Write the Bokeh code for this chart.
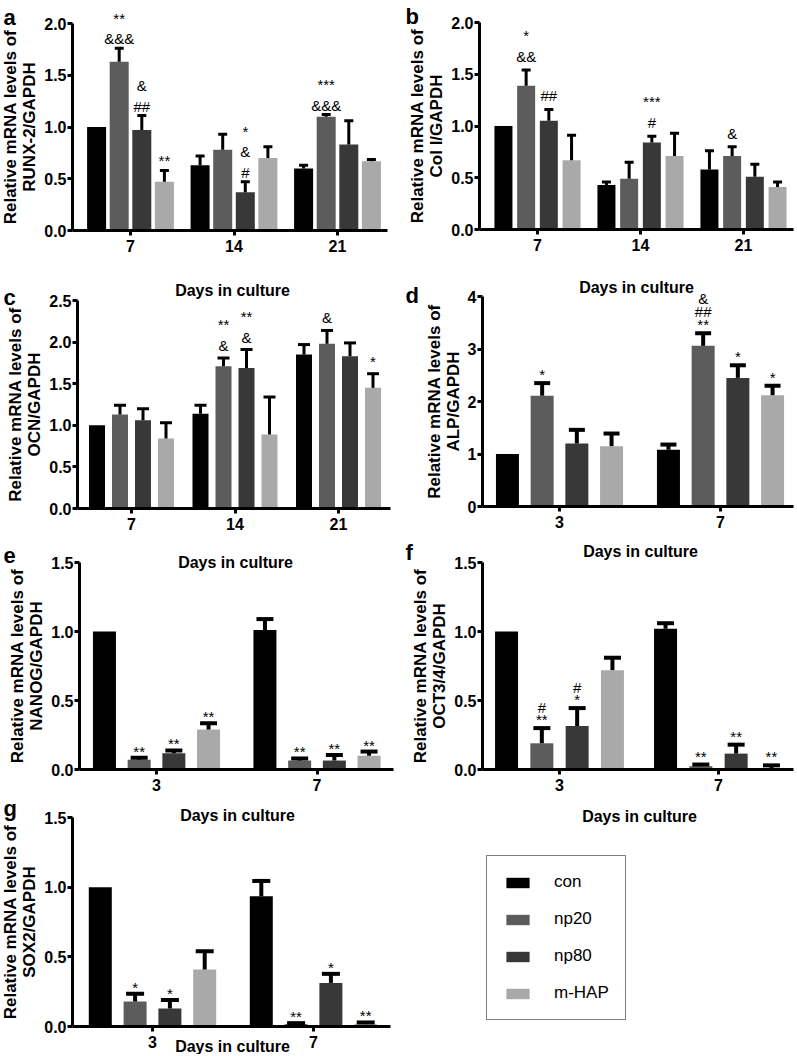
from bokeh.plotting import figure
from bokeh.models import (ColumnDataSource, Whisker, TeeHead, Label, LabelSet, Legend,
                          LegendItem, FixedTicker, NumeralTickFormatter, Range1d, LinearAxis)
from bokeh.embed import file_html
from bokeh.resources import INLINE
from bokeh.core.properties import value

FONT = "Liberation Sans"
series = ["con", "np20", "np80", "m-HAP"]
colors = ["#000000", "#5c5c5c", "#383838", "#a9a9a9"]

# ---------------- data ----------------
# (a) RUNX-2
a_days = ["7", "14", "21"]
a_con = [1.00, 0.63, 0.60]
a_con_err = [0.00, 0.09, 0.03]
a_np20 = [1.63, 0.78, 1.10]
a_np20_err = [0.13, 0.15, 0.02]
a_np80 = [0.97, 0.37, 0.83]
a_np80_err = [0.14, 0.10, 0.23]
a_mhap = [0.47, 0.70, 0.67]
a_mhap_err = [0.11, 0.11, 0.015]
a_marks = [(1, 0, ["&&&", "**"]), (2, 0, ["##", "&"]), (3, 0, ["**"]),
           (2, 1, ["#", "&", "*"]), (1, 2, ["&&&", "***"])]

# (b) Col I
b_days = ["7", "14", "21"]
b_con = [1.00, 0.43, 0.58]
b_con_err = [0.00, 0.03, 0.18]
b_np20 = [1.39, 0.49, 0.71]
b_np20_err = [0.15, 0.16, 0.09]
b_np80 = [1.05, 0.84, 0.51]
b_np80_err = [0.11, 0.06, 0.12]
b_mhap = [0.67, 0.71, 0.41]
b_mhap_err = [0.24, 0.22, 0.05]
b_marks = [(1, 0, ["&&", "*"]), (2, 0, ["##"]), (2, 1, ["#", "***"]), (1, 2, ["&"])]

# (c) OCN
c_days = ["7", "14", "21"]
c_con = [1.00, 1.14, 1.85]
c_con_err = [0.00, 0.10, 0.12]
c_np20 = [1.13, 1.71, 1.98]
c_np20_err = [0.11, 0.10, 0.16]
c_np80 = [1.06, 1.69, 1.83]
c_np80_err = [0.14, 0.22, 0.16]
c_mhap = [0.84, 0.89, 1.45]
c_mhap_err = [0.19, 0.45, 0.17]
c_marks = [(1, 1, ["&", "**"]), (2, 1, ["&", "**"]), (1, 2, ["&"]), (3, 2, ["*"])]

# (d) ALP
d_days = ["3", "7"]
d_con = [1.00, 1.08]
d_con_err = [0.00, 0.10]
d_np20 = [2.11, 3.06]
d_np20_err = [0.24, 0.24]
d_np80 = [1.20, 2.45]
d_np80_err = [0.26, 0.24]
d_mhap = [1.15, 2.12]
d_mhap_err = [0.24, 0.18]
d_marks = [(1, 0, ["*"]), (1, 1, ["**", "##", "&"]), (2, 1, ["*"]), (3, 1, ["*"])]

# (e) NANOG
e_days = ["3", "7"]
e_con = [1.00, 1.01]
e_con_err = [0.00, 0.08]
e_np20 = [0.07, 0.065]
e_np20_err = [0.015, 0.015]
e_np80 = [0.118, 0.065]
e_np80_err = [0.02, 0.04]
e_mhap = [0.29, 0.10]
e_mhap_err = [0.045, 0.03]
e_marks = [(1, 0, ["**"]), (2, 0, ["**"]), (3, 0, ["**"]),
           (1, 1, ["**"]), (2, 1, ["**"]), (3, 1, ["**"])]

# (f) OCT3/4
f_days = ["3", "7"]
f_con = [1.00, 1.02]
f_con_err = [0.00, 0.04]
f_np20 = [0.19, 0.024]
f_np20_err = [0.11, 0.012]
f_np80 = [0.315, 0.115]
f_np80_err = [0.13, 0.065]
f_mhap = [0.72, 0.008]
f_mhap_err = [0.09, 0.022]
f_marks = [(1, 0, ["**", "#"]), (2, 0, ["*", "#"]),
           (1, 1, ["**"]), (2, 1, ["**"]), (3, 1, ["**"])]

# (g) SOX2
g_days = ["3", "7"]
g_con = [1.00, 0.935]
g_con_err = [0.00, 0.11]
g_np20 = [0.18, 0.017]
g_np20_err = [0.055, 0.007]
g_np80 = [0.13, 0.313]
g_np80_err = [0.06, 0.065]
g_mhap = [0.41, 0.017]
g_mhap_err = [0.13, 0.012]
g_marks = [(1, 0, ["*"]), (2, 0, ["*"]), (1, 1, ["**"]), (2, 1, ["*"]), (3, 1, ["**"])]

PREFIX = "Relative mRNA levels of\n"

# ---------------- canvas ----------------
CW, CH = 795, 1054          # canvas size (page starts at 0,0)
PL, PT = 0, 0
PR, PB = PL + CW, PT + CH

p = figure(width=CW, height=CH, x_range=Range1d(0, 1), y_range=Range1d(0, 1),
           output_backend="svg", toolbar_location=None,
           x_axis_location=None, y_axis_location=None, min_border=0)
p.min_border_left = p.min_border_right = p.min_border_top = p.min_border_bottom = 0
p.outline_line_color = None
p.grid.visible = False
p.background_fill_color = "white"
p.border_fill_color = "white"


def add_text(px, py, text, size="16px", bold=True, align="center", baseline="middle"):
    p.add_layout(Label(x=px - PL, y=PB - py, x_units="screen", y_units="screen", text=text,
                       text_font=FONT, text_font_size=size,
                       text_font_style="bold" if bold else "normal",
                       text_color="black", text_align=align, text_baseline=baseline))


def panel(name, geo, ymax, ystep, fmt, days, means, errs, ylabel, marks):
    ox, oy, K, G0, S, xr, bwp, pitp, gap, lstep, tee, lw = geo
    p.extra_x_ranges[name] = Range1d((PL - G0) / S, (PR - G0) / S)
    p.extra_y_ranges[name] = Range1d((oy - PB) / K, (oy - PT) / K)
    kw = dict(x_range_name=name, y_range_name=name)
    n = len(days)
    bw = bwp / S
    pitch = pitp / S
    rends = []
    wb, wl, wu = [], [], []
    for i in range(4):
        xs = [g + (i - 1.5) * pitch for g in range(n)]
        src = ColumnDataSource(dict(x=xs, top=means[i]))
        rends.append(p.vbar(x="x", top="top", width=bw, bottom=0, source=src,
                            fill_color=colors[i], line_color=None, **kw))
        for g in range(n):
            if errs[i][g] > 0:
                wb.append(xs[g])
                wl.append(means[i][g])
                wu.append(means[i][g] + errs[i][g])
    p.add_layout(Whisker(source=ColumnDataSource(dict(base=wb, lower=wl, upper=wu)),
                         base="base", lower="lower", upper="upper", dimension="height",
                         line_color="black", line_width=lw, lower_head=None,
                         upper_head=TeeHead(size=tee, line_color="black", line_width=lw),
                         level="overlay", **kw))
    ax, ay, at, ao = [], [], [], []
    for (i, g, lines) in marks:
        for k, s in enumerate(lines):
            ax.append(g + (i - 1.5) * pitch)
            ay.append(means[i][g] + errs[i][g])
            at.append(s)
            ao.append(gap + k * lstep)
    p.add_layout(LabelSet(source=ColumnDataSource(dict(x=ax, y=ay, t=at, o=ao)),
                          x="x", y="y", text="t", y_offset="o",
                          text_align="center", text_baseline="alphabetic",
                          text_font=value(FONT), text_font_size="15px",
                          text_color="black", **kw))
    x_left = (ox - G0) / S
    x_right = (xr - G0) / S
    nt = int(round(ymax / ystep))
    xaxis = LinearAxis(fixed_location=0, bounds=(x_left, x_right),
                       ticker=FixedTicker(ticks=list(range(n))),
                       major_label_overrides={g: d for g, d in enumerate(days)}, **kw)
    yaxis = LinearAxis(fixed_location=x_left, bounds=(0, ymax),
                       ticker=FixedTicker(ticks=[k * ystep for k in range(nt + 1)]),
                       formatter=NumeralTickFormatter(format=fmt),
                       axis_label=PREFIX + ylabel, **kw)
    for a in (xaxis, yaxis):
        a.axis_line_width = 3
        a.axis_line_color = "black"
        a.major_tick_line_width = 3
        a.major_tick_line_color = "black"
        a.major_tick_out = 5
        a.major_tick_in = 0
        a.minor_tick_line_color = None
        a.major_label_text_font = FONT
        a.major_label_text_font_size = "16px"
        a.major_label_text_font_style = "bold"
        a.major_label_text_color = "black"
    xaxis.major_label_standoff = 4
    yaxis.major_label_standoff = 1
    yaxis.axis_label_text_font = FONT
    yaxis.axis_label_text_font_size = "17px"
    yaxis.axis_label_text_font_style = "bold"
    yaxis.axis_label_text_color = "black"
    yaxis.axis_label_text_line_height = 1.0
    yaxis.axis_label_standoff = 2
    p.add_layout(xaxis, "below")
    p.add_layout(yaxis, "left")
    return rends


# geometry (page px): y-axis x, baseline y, px per unit, group-0 x, group step,
# x-axis right end, bar width, bar pitch, mark gap, mark line step, tee size, line width
GEO = {
    "a": (72, 230, 103.5, 130, 103.5, 387, 19, 22.6, 4, 20.5, 9, 3),
    "b": (479, 229, 103.5, 537, 103.0, 793, 18, 22.7, 8, 21, 9, 3),
    "c": (77, 508, 83.2, 131, 103.5, 390, 16, 23.0, 7, 21, 12, 3),
    "d": (482, 506, 52.5, 559, 161.0, 793, 23, 34.7, 3, 13, 16, 4),
    "e": (79, 769, 138.0, 156, 160.5, 393, 23, 34.7, 1, 12, 17, 4),
    "f": (482, 769, 138.0, 559, 159.0, 793, 23, 35.3, 3, 12, 17, 4),
    "g": (72, 1026, 139.3, 152, 161.0, 390, 23, 34.8, 1, 12, 18, 4),
}

panel("a", GEO["a"], 2.0, 0.5, "0.0", a_days, [a_con, a_np20, a_np80, a_mhap],
      [a_con_err, a_np20_err, a_np80_err, a_mhap_err], "RUNX-2/GAPDH", a_marks)
panel("b", GEO["b"], 2.0, 0.5, "0.0", b_days, [b_con, b_np20, b_np80, b_mhap],
      [b_con_err, b_np20_err, b_np80_err, b_mhap_err], "Col I/GAPDH", b_marks)
panel("c", GEO["c"], 2.5, 0.5, "0.0", c_days, [c_con, c_np20, c_np80, c_mhap],
      [c_con_err, c_np20_err, c_np80_err, c_mhap_err], "OCN/GAPDH", c_marks)
panel("d", GEO["d"], 4, 1, "0", d_days, [d_con, d_np20, d_np80, d_mhap],
      [d_con_err, d_np20_err, d_np80_err, d_mhap_err], "ALP/GAPDH", d_marks)
panel("e", GEO["e"], 1.5, 0.5, "0.0", e_days, [e_con, e_np20, e_np80, e_mhap],
      [e_con_err, e_np20_err, e_np80_err, e_mhap_err], "NANOG/GAPDH", e_marks)
panel("f", GEO["f"], 1.5, 0.5, "0.0", f_days, [f_con, f_np20, f_np80, f_mhap],
      [f_con_err, f_np20_err, f_np80_err, f_mhap_err], "OCT3/4/GAPDH", f_marks)
g_rends = panel("g", GEO["g"], 1.5, 0.5, "0.0", g_days, [g_con, g_np20, g_np80, g_mhap],
                [g_con_err, g_np20_err, g_np80_err, g_mhap_err], "SOX2/GAPDH", g_marks)

# panel letters (page px, left / baseline)
for letter, lx, ly in [("a", 3, 17), ("b", 405, 16), ("c", 3, 297), ("d", 405, 295),
                       ("e", 3, 555), ("f", 405, 552), ("g", 3, 808)]:
    add_text(lx, ly, letter, "22px", True, "left", "alphabetic")

# "Days in culture" captions (page px, centre)
for cx, cy in [(232, 290), (636, 287), (235, 562), (640, 551),
               (237, 815), (639, 816), (232, 1046)]:
    add_text(cx, cy, "Days in culture")

# legend
legend = Legend(items=[LegendItem(label=s, renderers=[r]) for s, r in zip(series, g_rends)],
                location=(486 - PL, PB - 1020))
legend.border_line_color = "black"
legend.border_line_width = 1.5
legend.background_fill_color = "white"
legend.background_fill_alpha = 1.0
legend.padding = 16
legend.spacing = 17
legend.margin = 0
legend.glyph_width = 29
legend.glyph_height = 13
legend.label_standoff = 22
legend.label_width = 55
legend.label_text_font = FONT
legend.label_text_font_size = "17px"
legend.label_text_color = "black"
p.add_layout(legend)

open("out.html", "w").write(file_html(p, INLINE))
